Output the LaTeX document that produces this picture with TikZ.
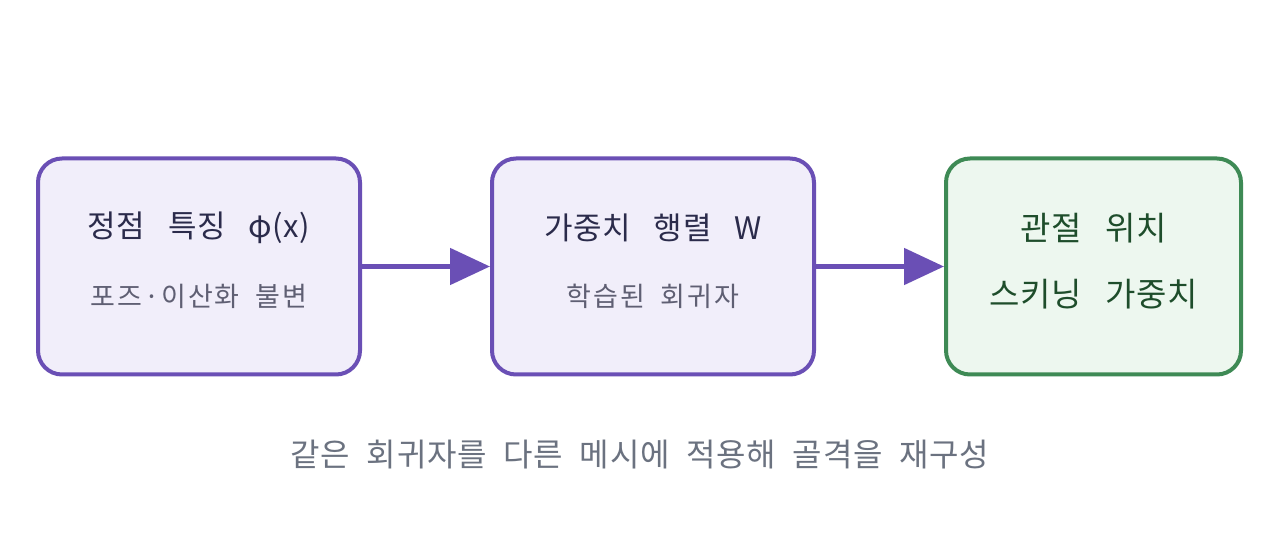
\documentclass[tikz,border=0pt]{standalone}
\usepackage{fontspec}
\setmainfont{Noto Sans CJK KR}
\newfontfamily\ttlfont[LetterSpace=2,WordSpace=3]{Noto Sans CJK KR}
\newfontfamily\subfont[LetterSpace=7,WordSpace=2]{Noto Sans CJK KR}
\newfontfamily\capfont[LetterSpace=3,WordSpace=2]{Noto Sans CJK KR}
\usetikzlibrary{arrows.meta}
\definecolor{pstroke}{HTML}{6A4FB5}
\definecolor{pfill}{HTML}{F1EEFA}
\definecolor{gstroke}{HTML}{3E8A55}
\definecolor{gfill}{HTML}{EDF7EF}
\definecolor{titlec}{HTML}{2B2B4B}
\definecolor{subc}{HTML}{5F5F73}
\definecolor{capc}{HTML}{6B7280}
\definecolor{greenc}{HTML}{1E4D2B}
\tikzset{
  box/.style={draw=pstroke, fill=pfill, line width=4pt, rounded corners=24pt, minimum height=216pt, inner sep=0pt},
  gbox/.style={draw=gstroke, fill=gfill, line width=4pt, rounded corners=24pt, minimum height=216pt, minimum width=295pt, inner sep=0pt},
  ttl/.style={text=titlec, font=\ttlfont\fontsize{31}{35}\selectfont, inner sep=0pt},
  sub/.style={text=subc, font=\subfont\fontsize{27}{31}\selectfont, inner sep=0pt},
  gtxt/.style={text=greenc, font=\ttlfont\fontsize{33}{37}\selectfont, inner sep=0pt},
  captxt/.style={text=capc, font=\capfont\fontsize{32}{36}\selectfont, inner sep=0pt},
  flow/.style={draw=pstroke, line width=5pt, -{Triangle[length=40pt,width=36pt]}}
}
\begin{document}
\begin{tikzpicture}[x=1pt,y=1pt]
\useasboundingbox[fill=white] (0,0) rectangle (1280,533);
\node[box, minimum width=322pt] (b1) at (199,266.5) {};
\node[box, minimum width=322pt] (b2) at (653,266.5) {};
\node[gbox] (b3) at (1093.5,266.5) {};
\node[ttl] (t1) at (199,305) {정점 특징 φ(x)};
\node[sub] (s1) at (199,237) {포즈·이산화 불변};
\node[ttl] (t2) at (653,305) {가중치 행렬 W};
\node[sub] (s2) at (653,237) {학습된 회귀자};
\node[gtxt] (t3) at (1093.5,305) {관절 위치};
\node[gtxt] (s3) at (1093.5,239) {스키닝 가중치};
\node[captxt] (cap) at (640,78) {같은 회귀자를 다른 메시에 적용해 골격을 재구성};
\draw[flow] (b1.east) -- (b2.west);
\draw[flow] (b2.east) -- (b3.west);
\end{tikzpicture}
\end{document}
